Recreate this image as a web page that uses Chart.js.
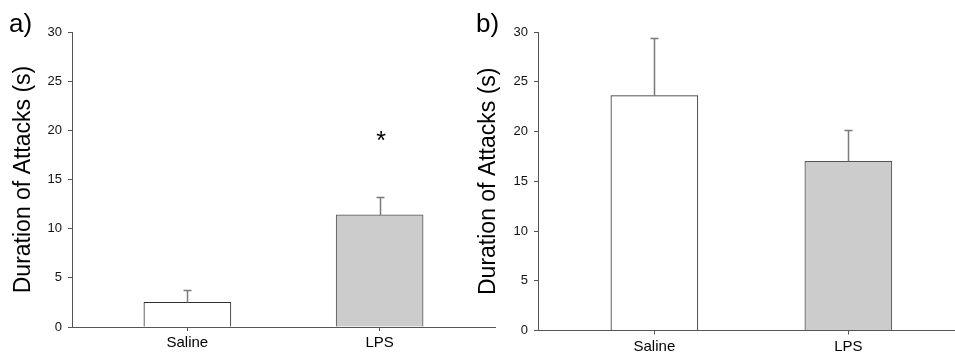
<!DOCTYPE html>
<html>
<head>
<meta charset="utf-8">
<script src="https://cdn.jsdelivr.net/npm/chart.js@4/dist/chart.umd.min.js"></script>
<style>
  html, body { margin: 0; padding: 0; background: #fff; }
  #wrap { position: relative; width: 955px; height: 360px; overflow: hidden; }
  canvas { position: absolute; top: 0; }
  .panel { position: absolute; font-family: "Liberation Sans", Arial, sans-serif; font-size: 26px; color: #000; line-height: 1; }
</style>
</head>
<body>
<div id="wrap">
  <canvas id="ca" width="500" height="360" style="left:0px"></canvas>
  <canvas id="cb" width="478" height="360" style="left:477px"></canvas>
  <div class="panel" style="left:9px; top:10px;">a)</div>
  <div class="panel" style="left:476px; top:10px;">b)</div>
</div>
<script>
// ---- data ----
const categories = ['Saline', 'LPS'];
const yTicks = [0, 5, 10, 15, 20, 25, 30];
const yTitle = 'Duration of Attacks (s)';
const meansA = [2.5, 11.4];
const errorsA = [1.3, 1.85];
const starsA = [null, 19.2];     // significance marker position (value units)
const meansB = [23.6, 17.0];
const errorsB = [5.8, 3.15];
const starsB = [null, null];
const barFills = ['#ffffff', '#cccccc'];
const barEdges = ['#2e2e2e', '#555555'];

const FONT = '"Liberation Sans", Arial, sans-serif';
const AXIS = '#555555';

const errorPlugin = {
  id: 'errbars',
  afterDatasetsDraw(chart, args, opts) {
    const ctx = chart.ctx;
    const xs = chart.scales.x, ys = chart.scales.y;
    ctx.save();
    opts.means.forEach((m, i) => {
      const x = Math.round(xs.getPixelForValue(i)) + 0.5;
      const yb = ys.getPixelForValue(m);
      const yt = Math.round(ys.getPixelForValue(m + opts.errors[i])) + 0.5;
      ctx.strokeStyle = opts.color;
      ctx.lineWidth = 1.5;
      ctx.beginPath();
      ctx.moveTo(x, yb);
      ctx.lineTo(x, yt);
      ctx.moveTo(x - 4, yt);
      ctx.lineTo(x + 4, yt);
      ctx.stroke();
      if (opts.stars[i] != null) {
        ctx.fillStyle = '#000';
        ctx.font = '25px ' + FONT;
        ctx.textAlign = 'center';
        ctx.textBaseline = 'middle';
        ctx.fillText('*', xs.getPixelForValue(i) + 1.5, ys.getPixelForValue(opts.stars[i]) + 4);
      }
    });
    ctx.restore();
  }
};

function makeChart(id, means, errors, stars, cfg) {
  return new Chart(document.getElementById(id), {
    type: 'bar',
    data: {
      datasets: [{
        data: means.map((v, i) => ({ x: i, y: v })),
        backgroundColor: barFills,
        borderColor: barEdges,
        borderWidth: 1,
        borderSkipped: 'bottom',
        barThickness: 87
      }]
    },
    plugins: [errorPlugin],
    options: {
      responsive: false,
      animation: false,
      devicePixelRatio: 1,
      layout: { padding: { left: 0, right: cfg.padRight, top: 32, bottom: 0 } },
      plugins: {
        legend: { display: false },
        tooltip: { enabled: false },
        errbars: { means: means, errors: errors, stars: stars, color: '#7a7a7a' }
      },
      scales: {
        x: {
          type: 'linear',
          offset: false,
          min: -0.6,
          max: cfg.xMax,
          afterBuildTicks: s => { s.ticks = categories.map((c, i) => ({ value: i })); },
          afterFit: s => { s.height = cfg.xHeight; },
          ticks: {
            autoSkip: false,
            maxRotation: 0,
            padding: 3,
            color: '#000',
            font: { family: FONT, size: 15 },
            callback: (v, i) => categories[i]
          },
          grid: { offset: false, drawOnChartArea: false, drawTicks: true, tickLength: 4, color: AXIS, lineWidth: 1 },
          border: { display: true, color: AXIS, width: 1 }
        },
        y: {
          min: 0,
          max: 30,
          afterBuildTicks: s => { s.ticks = yTicks.map(v => ({ value: v })); },
          afterFit: s => { s.width = cfg.yWidth; },
          ticks: {
            padding: 6,
            color: '#111',
            font: { family: FONT, size: 13 }
          },
          grid: { drawOnChartArea: false, drawTicks: true, tickLength: 4, color: AXIS, lineWidth: 1 },
          border: { display: true, color: AXIS, width: 1 },
          title: {
            display: true,
            text: yTitle,
            color: '#000',
            font: { family: FONT, size: 23, lineHeight: 1 },
            padding: { top: cfg.titlePad, bottom: 0 }
          }
        }
      }
    }
  });
}

makeChart('ca', meansA, errorsA, starsA, { padRight: 5, xMax: 1.6, xHeight: 33, yWidth: 72, titlePad: 12.5 });
makeChart('cb', meansB, errorsB, starsB, { padRight: 0, xMax: 1.55, xHeight: 29.5, yWidth: 61, titlePad: 0.5 });
</script>
</body>
</html>
